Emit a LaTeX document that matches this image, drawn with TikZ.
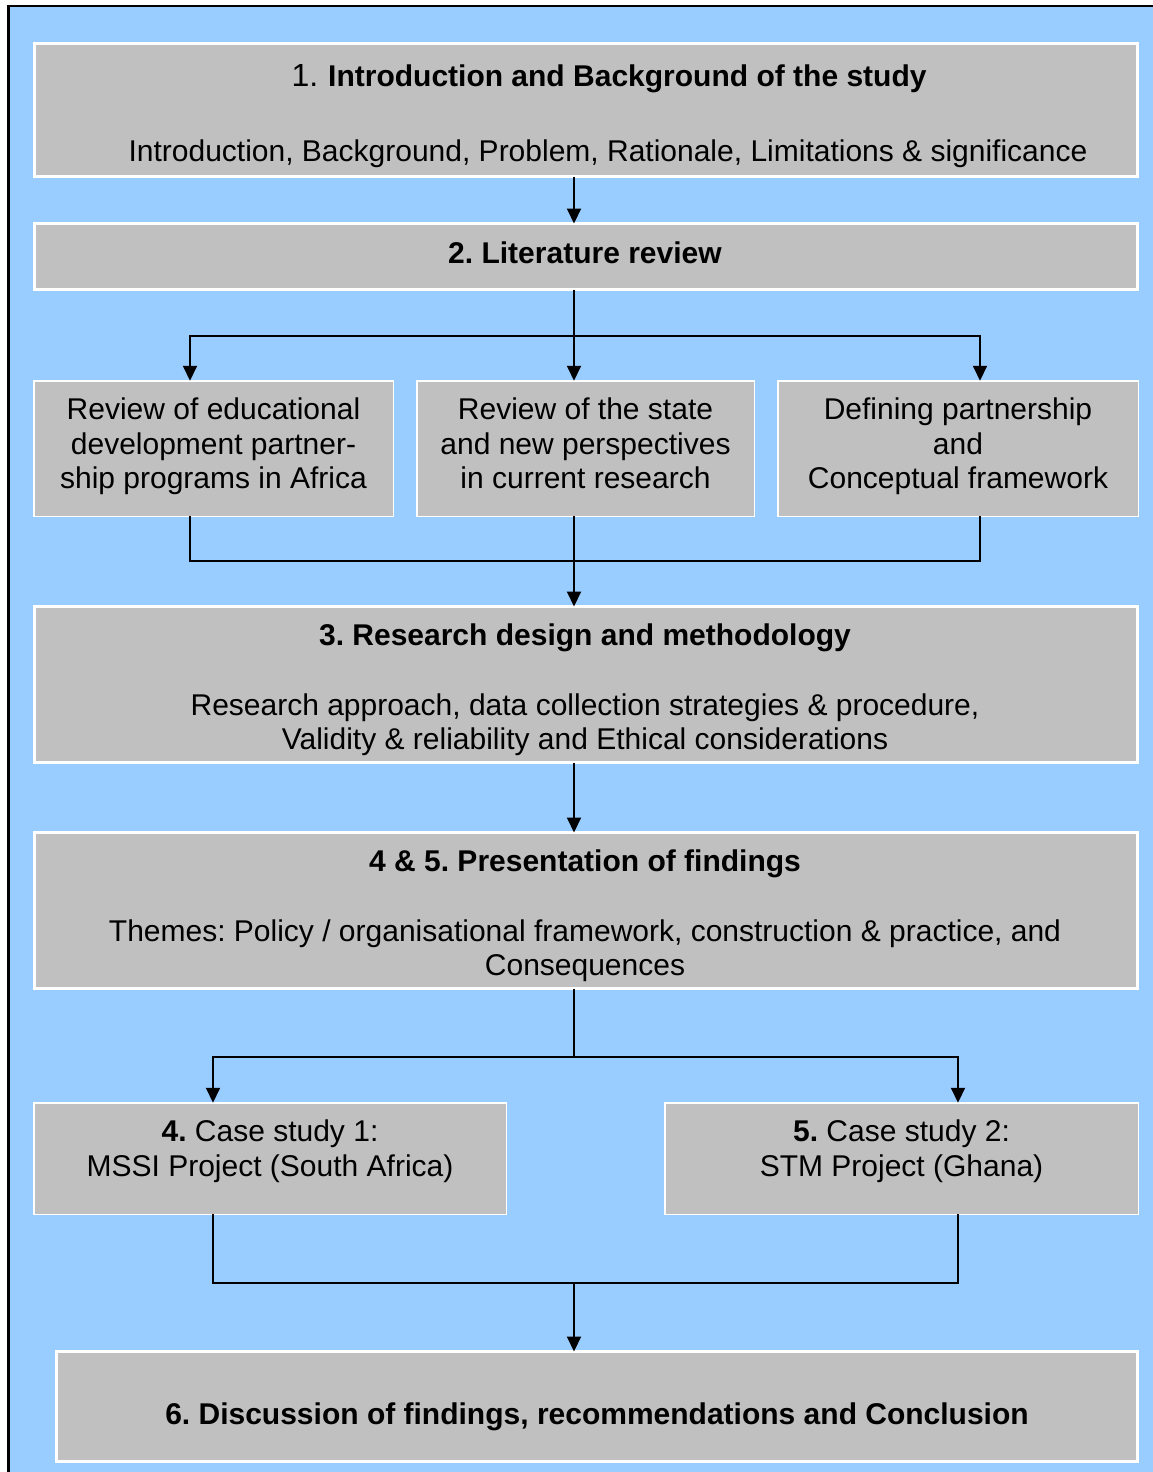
\documentclass[tikz,border=0pt]{standalone}
\usepackage{fontspec}
\setmainfont{Liberation Sans}
\usetikzlibrary{arrows.meta}
\frenchspacing

\definecolor{skyblue}{HTML}{99CCFF}
\definecolor{boxgray}{HTML}{C0C0C0}

\tikzset{
  mainbox/.style={fill=boxgray, draw=white, line width=3pt, inner sep=0pt, outer sep=0pt},
  subbox/.style={fill=boxgray, draw=white, line width=1.5pt, inner sep=0pt, outer sep=0pt},
  txt/.style={inner sep=0pt, align=center, font=\fontsize{30}{34.5}\selectfont},
  link/.style={line width=2pt, black},
  arr/.style={link, -{Triangle[width=14pt,length=15pt]}}
}

\begin{document}
\begin{tikzpicture}[x=1pt,y=-1pt]
\useasboundingbox (0,0) rectangle (1153,1472);

% panel background with its frame on the left and top
\fill[skyblue] (9,7) rectangle (1153,1472);
\draw[black, line width=2.5pt] (8.7,1472) -- (8.7,6.2) -- (1153,6.2);

% junction coordinates for the connectors
\coordinate (spine) at (574,0);
\coordinate (colA) at (190,0);
\coordinate (colC) at (980,0);
\coordinate (colD) at (213,0);
\coordinate (colE) at (958,0);
\coordinate (split1) at (574,336);
\coordinate (join1) at (574,561);
\coordinate (split2) at (574,1057);
\coordinate (join2) at (574,1283);

% boxes
\node[mainbox, minimum width=1103pt, minimum height=133pt] (b1) at (586,110) {};
\node[mainbox, minimum width=1103pt, minimum height=66pt] (b2) at (586,256.5) {};
\node[subbox, minimum width=359.5pt, minimum height=135.5pt] (ra) at (213.5,448.5) {};
\node[subbox, minimum width=337.5pt, minimum height=135.5pt] (rb) at (585.5,448.5) {};
\node[subbox, minimum width=360.5pt, minimum height=135.5pt] (rc) at (958,448.5) {};
\node[mainbox, minimum width=1103pt, minimum height=156pt] (b3) at (586,684.5) {};
\node[mainbox, minimum width=1103pt, minimum height=156pt] (b45) at (586,910.5) {};
\node[subbox, minimum width=472.5pt, minimum height=111.5pt] (c1) at (270,1158.5) {};
\node[subbox, minimum width=473.5pt, minimum height=111.5pt] (c2) at (901.5,1158.5) {};
\node[mainbox, minimum width=1081pt, minimum height=110pt] (b6) at (597,1406.5) {};

% texts
\node[txt] (t1) at (609,79) {{\fontsize{32}{34.5}\selectfont 1.}\hspace{10pt}\textbf{Introduction and Background of the study}};
\node[txt] (s1) at (608,154) {Introduction, Background, Problem, Rationale, Limitations \& significance};
\node[txt] (t2) at (585,253) {\textbf{2. Literature review}};
\node[txt] (ta) at (213.5,446.5) {Review of educational\\development partner-\\ship programs in Africa};
\node[txt] (tb) at (585.5,443.5) {Review of the state\\and new perspectives\\in current research};
\node[txt] (tc) at (958,446.5) {Defining partnership\\and\\Conceptual framework};
\node[txt] (t3) at (585,638) {\textbf{3. Research design and methodology}};
\node[txt] (s3) at (585,724.5) {Research approach, data collection strategies \& procedure,\\Validity \& reliability and Ethical considerations};
\node[txt] (t45) at (585,864) {\textbf{4 \& 5. Presentation of findings}};
\node[txt] (s45) at (585,950.5) {Themes: Policy / organisational framework, construction \& practice, and\\Consequences};
\node[txt] (tc1) at (270,1151) {\textbf{4.} Case study 1:\\MSSI Project (South Africa)};
\node[txt] (tc2) at (901.5,1151) {\textbf{5.} Case study 2:\\STM Project (Ghana)};
\node[txt] (t6) at (597,1417) {\textbf{6. Discussion of findings, recommendations and Conclusion}};

% connectors
\draw[arr] (b1.south -| spine) -- (b2.north -| spine);
\draw[arr] (b2.south -| spine) -- (rb.north -| spine);
\draw[arr] (split1) -| (ra.north -| colA);
\draw[arr] (split1) -| (rc.north -| colC);
\draw[link] (ra.south -| colA) |- (join1) -| (rc.south -| colC);
\draw[arr] (rb.south -| spine) -- (b3.north -| spine);
\draw[arr] (b3.south -| spine) -- (b45.north -| spine);
\draw[link] (b45.south -| spine) -- (split2);
\draw[arr] (split2) -| (c1.north -| colD);
\draw[arr] (split2) -| (c2.north -| colE);
\draw[link] (c1.south -| colD) |- (join2) -| (c2.south -| colE);
\draw[arr] (join2) -- (b6.north -| spine);
\end{tikzpicture}
\end{document}
